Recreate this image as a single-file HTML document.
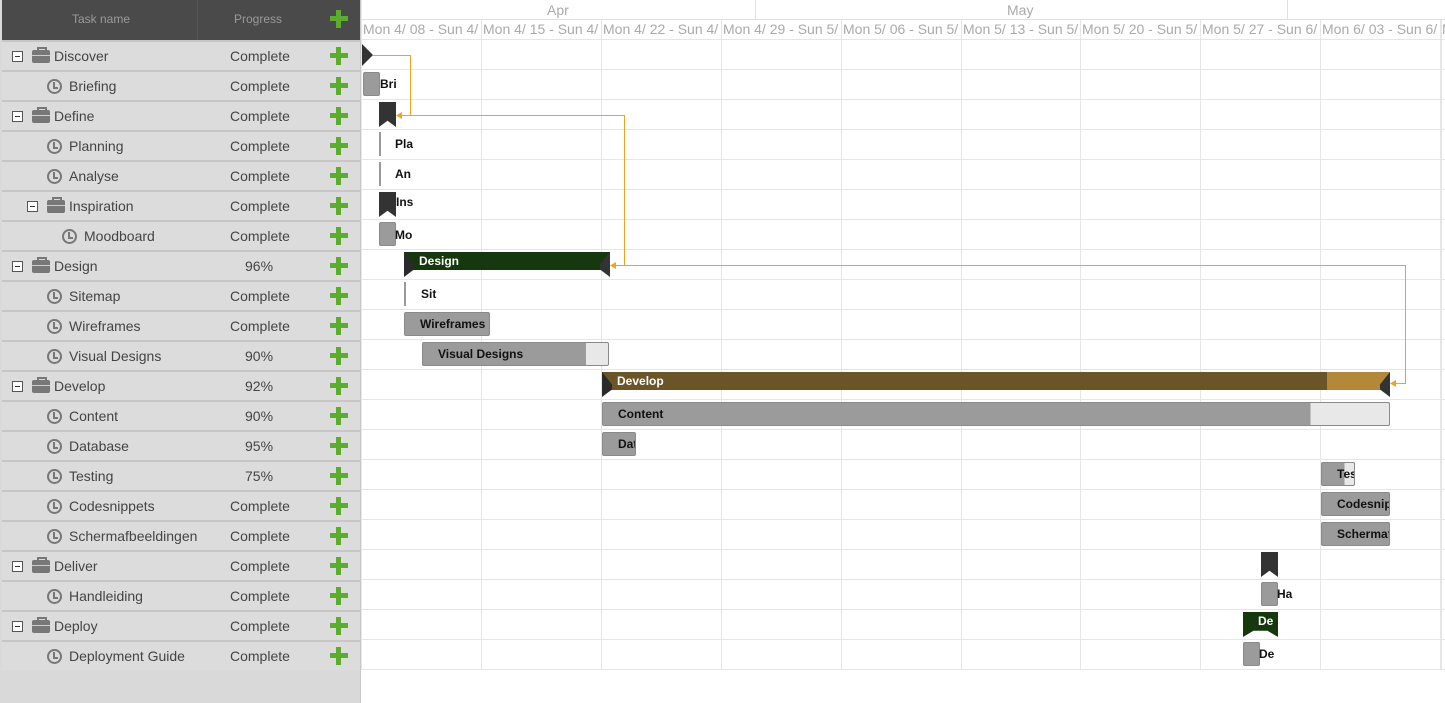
<!DOCTYPE html>
<html><head><meta charset="utf-8"><style>
*{margin:0;padding:0;box-sizing:border-box}
body{width:1445px;height:703px;overflow:hidden;background:#fff;font-family:"Liberation Sans",Arial,sans-serif;position:relative}
.a{position:absolute}
.lp{left:0;top:0;width:361px;height:703px;background:#d9d9d9;border-right:1px solid #c8c8c8}
.hd{left:2px;top:0;width:358px;height:40px;background:#4a4a4a;color:#9a9a9a;font-size:12px}
.row{position:absolute;left:2px;width:358px;height:30px;background:#dcdcdc;border-top:2px solid #c6c6c6;font-size:14px;color:#444}
.row span{position:absolute;top:6px}
.pl{position:absolute;right:12px;top:5px;width:18px;height:18px}
.pl:before{content:"";position:absolute;left:6px;top:0;width:5px;height:18px;background:#5cad2f}
.pl:after{content:"";position:absolute;left:0;top:6px;width:18px;height:5px;background:#5cad2f}
.mn{position:absolute;top:9px;width:11px;height:11px;border:1px solid #555;background:#fff}
.mn:after{content:"";position:absolute;left:2px;top:4px;width:5px;height:1px;background:#333}
.br{position:absolute;top:8px;width:18px;height:13px;background:#777;border-radius:2px}
.br:before{content:"";position:absolute;left:5px;top:-3px;width:6px;height:3px;border:2px solid #777;border-bottom:none}
.br:after{content:"";position:absolute;left:0;top:5px;width:18px;height:1px;background:#ccc}
.ck{position:absolute;top:7px;width:15px;height:15px;border:2px solid #777;border-radius:50%}
.ck:after{content:"";position:absolute;left:4px;top:1px;width:3px;height:5px;border-left:2px solid #777;border-bottom:2px solid #777}
.vl{position:absolute;width:1px;background:#e6e6e6}
.hl{position:absolute;left:362px;width:1083px;height:1px;background:#e6e6e6}
.wk{position:absolute;top:21px;font-size:14px;color:#aaa;white-space:nowrap;overflow:hidden;height:19px}
.g{position:absolute;background:#9b9b9b;border:1px solid #8a8a8a;border-radius:2px;font-size:12px;font-weight:bold;color:#111;white-space:nowrap;overflow:hidden;line-height:22px}
.lab{position:absolute;font-size:12px;font-weight:bold;color:#111;white-space:nowrap}
.dk{position:absolute;background:#16380f}
</style></head><body>
<div class="a lp"></div>
<div class="a hd"><span class="a" style="left:70px;top:12px">Task name</span><span class="a" style="left:195px;top:0;width:1px;height:40px;background:#555"></span><span class="a" style="left:232px;top:12px">Progress</span><div class="pl" style="top:10px"></div></div>
<div id="rows"></div>
<div class="a" style="left:362px;top:0;width:1083px;height:20px;border-bottom:1px solid #e0e0e0"></div>
<div class="a" style="left:547px;top:2px;font-size:14px;color:#aaa">Apr</div>
<div class="a" style="left:1007px;top:2px;font-size:14px;color:#aaa">May</div>
<div class="a" style="left:755px;top:0;width:1px;height:20px;background:#e0e0e0"></div>
<div class="a" style="left:1287px;top:0;width:1px;height:20px;background:#e0e0e0"></div>
<div id="grid"></div>
<div class="a" style="left:362px;top:44px;width:0;height:0;border-top:11px solid transparent;border-bottom:11px solid transparent;border-left:11px solid #333"></div>
<div class="g" style="left:363px;top:72px;width:17px;height:24px"></div><div class="lab" style="left:380px;top:77px">Bri</div>
<div class="dk" style="left:379px;top:102px;width:17px;height:25px;background:#333;clip-path:polygon(0 0,100% 0,100% 100%,50% 75%,0 100%)"></div>
<div class="a" style="left:379px;top:132px;width:2px;height:24px;background:#999"></div><div class="lab" style="left:395px;top:137px">Pla</div>
<div class="a" style="left:379px;top:162px;width:2px;height:24px;background:#999"></div><div class="lab" style="left:395px;top:167px">An</div>
<div class="dk" style="left:379px;top:192px;width:17px;height:25px;background:#333;clip-path:polygon(0 0,100% 0,100% 100%,50% 75%,0 100%)"></div><div class="lab" style="left:396px;top:195px">Ins</div>
<div class="g" style="left:379px;top:222px;width:17px;height:24px"></div><div class="lab" style="left:395px;top:228px">Mo</div>
<div class="dk" style="left:404px;top:252px;width:206px;height:18px"></div>
<div class="a" style="left:404px;top:252px;width:10px;height:25px;background:#2a2a2a;clip-path:polygon(0 0,100% 50%,100% 70%,0 100%)"></div>
<div class="a" style="left:600px;top:252px;width:10px;height:25px;background:#333;clip-path:polygon(100% 0,100% 100%,0 70%,0 50%)"></div>
<div class="lab" style="left:419px;top:254px;color:#fff">Design</div>
<div class="a" style="left:404px;top:282px;width:2px;height:24px;background:#999"></div><div class="lab" style="left:421px;top:287px">Sit</div>
<div class="g" style="left:404px;top:312px;width:86px;height:24px;padding-left:15px">Wireframes</div>
<div class="g" style="left:422px;top:342px;width:187px;height:24px;padding-left:15px;background:linear-gradient(90deg,#9b9b9b 88%,#e8e8e8 88%)">Visual Designs</div>
<div class="dk" style="left:602px;top:372px;width:788px;height:18px;background:linear-gradient(90deg,#6b5428 92%,#b3883a 92%)"></div>
<div class="a" style="left:602px;top:372px;width:10px;height:25px;background:#2a2a2a;clip-path:polygon(0 0,100% 50%,100% 70%,0 100%)"></div>
<div class="a" style="left:1380px;top:372px;width:10px;height:25px;background:#333;clip-path:polygon(100% 0,100% 100%,0 70%,0 50%)"></div>
<div class="lab" style="left:617px;top:374px;color:#fff">Develop</div>
<div class="g" style="left:602px;top:402px;width:788px;height:24px;padding-left:15px;background:linear-gradient(90deg,#9b9b9b 90%,#e8e8e8 90%)">Content</div>
<div class="g" style="left:602px;top:432px;width:34px;height:24px;padding-left:15px">Dat</div>
<div class="g" style="left:1321px;top:462px;width:34px;height:24px;padding-left:15px;background:linear-gradient(90deg,#9b9b9b 70%,#e8e8e8 70%)">Tes</div>
<div class="g" style="left:1321px;top:492px;width:69px;height:24px;padding-left:15px">Codesnippets</div>
<div class="g" style="left:1321px;top:522px;width:69px;height:24px;padding-left:15px">Schermafbeeldingen</div>
<div class="dk" style="left:1261px;top:552px;width:17px;height:25px;background:#333;clip-path:polygon(0 0,100% 0,100% 100%,50% 75%,0 100%)"></div>
<div class="g" style="left:1261px;top:582px;width:17px;height:24px"></div><div class="lab" style="left:1277px;top:587px">Ha</div>
<div class="dk" style="left:1243px;top:612px;width:35px;height:25px;clip-path:polygon(0 0,100% 0,100% 100%,70% 75%,30% 75%,0 100%)"></div><div class="lab" style="left:1258px;top:614px;color:#fff">De</div>
<div class="g" style="left:1243px;top:642px;width:17px;height:24px"></div><div class="lab" style="left:1259px;top:647px">De</div>
<svg class="a" style="left:0;top:0" width="1445" height="703">
<g fill="none" stroke="#f5a21b" stroke-width="1">
<polyline points="372.5,55.5 410.5,55.5 410.5,115.5 400,115.5"/>
<polyline points="400,115.5 624.5,115.5 624.5,265.5 614,265.5"/>
<polyline points="614,265.5 1405.5,265.5 1405.5,383.5 1394,383.5"/>
</g>
<g fill="#f5a21b"><polygon points="396,115.5 402,112 402,119"/><polygon points="610,265.5 616,262 616,269"/><polygon points="1390,383.5 1396,380 1396,387"/></g>
</svg>
<script>
var R=[["Discover",0,"p","Complete"],["Briefing",1,"t","Complete"],["Define",0,"p","Complete"],["Planning",1,"t","Complete"],["Analyse",1,"t","Complete"],["Inspiration",1,"p","Complete"],["Moodboard",2,"t","Complete"],["Design",0,"p","96%"],["Sitemap",1,"t","Complete"],["Wireframes",1,"t","Complete"],["Visual Designs",1,"t","90%"],["Develop",0,"p","92%"],["Content",1,"t","90%"],["Database",1,"t","95%"],["Testing",1,"t","75%"],["Codesnippets",1,"t","Complete"],["Schermafbeeldingen",1,"t","Complete"],["Deliver",0,"p","Complete"],["Handleiding",1,"t","Complete"],["Deploy",0,"p","Complete"],["Deployment Guide",1,"t","Complete"]];
var h="";R.forEach(function(r,i){var y=40+30*i,ind=15*r[1];h+='<div class="row" style="top:'+y+'px">';
if(r[2]=="p"){h+='<div class="mn" style="left:'+(10+ind)+'px"></div><div class="br" style="left:'+(30+ind)+'px"></div><span style="left:'+(52+ind)+'px">'+r[0]+'</span>';}
else{h+='<div class="ck" style="left:'+(30+ind)+'px"></div><span style="left:'+(52+ind)+'px">'+r[0]+'</span>';}
h+='<span style="left:'+(r[3]=="Complete"?228:243)+'px">'+r[3]+'</span><div class="pl"></div></div>';});
document.getElementById("rows").innerHTML=h;
var g="",W=["Mon 4/ 08 - Sun 4/","Mon 4/ 15 - Sun 4/","Mon 4/ 22 - Sun 4/","Mon 4/ 29 - Sun 5/","Mon 5/ 06 - Sun 5/","Mon 5/ 13 - Sun 5/","Mon 5/ 20 - Sun 5/","Mon 5/ 27 - Sun 6/","Mon 6/ 03 - Sun 6/","M"];
for(var i=0;i<10;i++){var x=362+Math.round(119.9*i);g+='<div class="vl" style="left:'+(x-1)+'px;top:'+(i?20:0)+'px;height:'+(i?650:670)+'px"></div><div class="wk" style="left:'+(x+1)+'px;width:118px">'+W[i]+'</div>';}
g+='<div class="vl" style="left:1441px;top:20px;height:650px"></div>';
for(var j=0;j<22;j++){g+='<div class="hl" style="top:'+(39+30*j)+'px"></div>';}
document.getElementById("grid").innerHTML=g;
</script>
</body></html>
